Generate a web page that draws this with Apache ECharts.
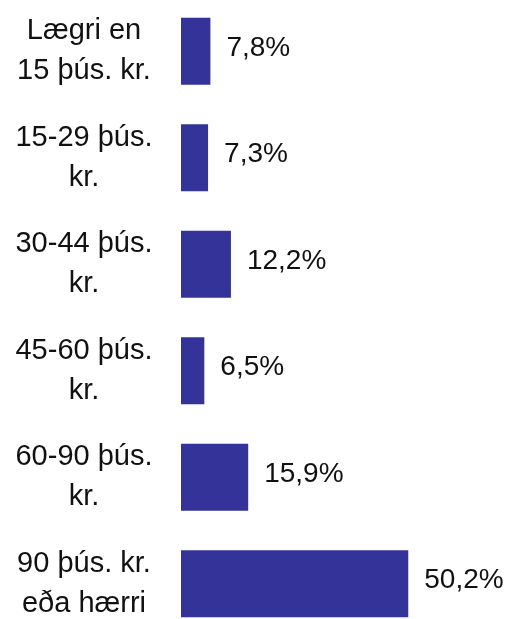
<!DOCTYPE html>
<html>
<head>
<meta charset="utf-8">
<script src="https://cdn.jsdelivr.net/npm/echarts@6/dist/echarts.min.js"></script>
<style>
  html, body { margin: 0; padding: 0; background: #fff; }
  #chart { width: 511px; height: 619px; }
</style>
</head>
<body>
<div id="chart"></div>
<script>
// income brackets, top to bottom
const categories = [
  'Lægri en\n15 þús. kr.',
  '15-29 þús.\nkr.',
  '30-44 þús.\nkr.',
  '45-60 þús.\nkr.',
  '60-90 þús.\nkr.',
  '90 þús. kr.\neða hærri'
]
const shares = [7.8, 7.3, 12.2, 6.5, 15.9, 50.2]

const textFont = '"Liberation Sans", Arial, sans-serif'

const chart = echarts.init(document.getElementById('chart'))

chart.setOption({
  animation: false,
  grid: {
    left: 181,
    right: 57,
    top: -2,
    bottom: -18,
    outerBoundsMode: 'none'
  },
  xAxis: {
    type: 'value',
    min: 1.5,
    max: 60,
    show: false
  },
  yAxis: {
    type: 'category',
    data: categories,
    inverse: true,
    axisLine: { show: false },
    axisTick: { show: false },
    splitLine: { show: false },
    axisLabel: {
      margin: 97,
      align: 'center',
      fontFamily: textFont,
      fontSize: 29,
      lineHeight: 40,
      color: '#111'
    }
  },
  series: [
    {
      type: 'bar',
      data: shares,
      barWidth: 67,
      itemStyle: { color: '#333399' },
      label: {
        show: true,
        position: 'right',
        distance: 16,
        fontFamily: textFont,
        fontSize: 28,
        color: '#111',
        offset: [0, -3],
        formatter: p => p.value.toFixed(1).replace('.', ',') + '%'
      }
    }
  ]
})
</script>
</body>
</html>
